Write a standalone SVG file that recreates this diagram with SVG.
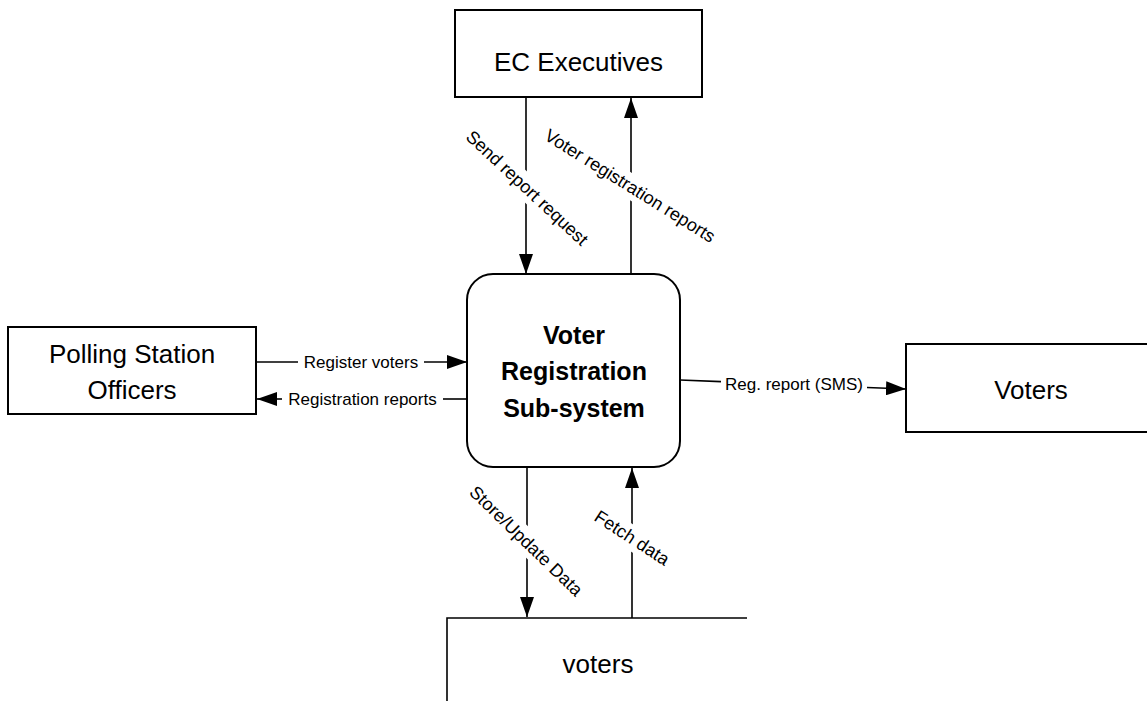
<svg xmlns="http://www.w3.org/2000/svg" width="1147" height="701" viewBox="0 0 1147 701">
<style>
.box{fill:#fff;stroke:#000;stroke-width:2}
.ln{fill:none;stroke:#000;stroke-width:1.6}
.big{font-family:"Liberation Sans",Arial,sans-serif;font-size:26px;fill:#000;text-anchor:middle}
.bold{font-family:"Liberation Sans",Arial,sans-serif;font-size:25px;font-weight:bold;fill:#000;text-anchor:middle}
.lbl{font-family:"Liberation Sans",Arial,sans-serif;font-size:17px;fill:#000;text-anchor:middle}
.rl{font-size:18px}
.bg{fill:#fff;stroke:none}
</style>
<defs>
<marker id="arr" markerUnits="userSpaceOnUse" markerWidth="20" markerHeight="14" refX="20" refY="7" orient="auto">
<path d="M0,0 L20,7 L0,14 z" fill="#000"/>
</marker>
</defs>
<rect width="1147" height="701" fill="#fff"/>
<g id="ec-executives">
<rect class="box" x="455" y="10" width="247" height="87"/>
<text class="big" x="578.5" y="71" font-size="23.5">EC Executives</text>
</g>
<g id="polling-station-officers">
<rect class="box" x="8" y="327" width="248" height="87"/>
<text class="big" x="132" y="363" font-size="27">Polling Station</text>
<text class="big" x="132" y="399" font-size="27">Officers</text>
</g>
<g id="voters-entity">
<rect class="box" x="906" y="344" width="260" height="88"/>
<text class="big" x="1031" y="399">Voters</text>
</g>
<g id="voter-registration-subsystem">
<rect class="box" x="467" y="274" width="213" height="193" rx="26" ry="26"/>
<text class="bold" x="574" y="344">Voter</text>
<text class="bold" x="574" y="380">Registration</text>
<text class="bold" x="574" y="417">Sub-system</text>
</g>
<g id="voters-datastore">
<path class="ln" d="M447,701 L447,618 L747,618" stroke-width="2"/>
<text class="big" x="598" y="673" font-size="27">voters</text>
</g>
<g id="connectors">
<line class="ln" x1="526" y1="97" x2="526" y2="274" marker-end="url(#arr)"/>
<line class="ln" x1="631" y1="274" x2="631" y2="98" marker-end="url(#arr)"/>
<line class="ln" x1="527" y1="467" x2="527" y2="617" marker-end="url(#arr)"/>
<line class="ln" x1="632" y1="618" x2="632" y2="468" marker-end="url(#arr)"/>
<line class="ln" x1="256" y1="362" x2="298" y2="362"/>
<line class="ln" x1="424" y1="362" x2="467" y2="362" marker-end="url(#arr)"/>
<line class="ln" x1="467" y1="399" x2="443" y2="399"/>
<line class="ln" x1="282" y1="399" x2="257" y2="399" marker-end="url(#arr)"/>
<line class="ln" x1="680" y1="380" x2="721" y2="381.6"/>
<line class="ln" x1="867" y1="387.5" x2="906" y2="389" marker-end="url(#arr)"/>
<text class="lbl" x="361" y="368">Register voters</text>
<text class="lbl" x="362.5" y="405">Registration reports</text>
<text class="lbl" x="794" y="390">Reg. report (SMS)</text>
<g transform="translate(527,188) rotate(43)">
<rect class="bg" x="-83" y="-12" width="166" height="24"/>
<text class="lbl rl" x="0" y="6">Send report  request</text>
</g>
<g transform="translate(630,186) rotate(32)">
<rect class="bg" x="-101" y="-12" width="202" height="24"/>
<text class="lbl rl" x="0" y="6">Voter registration reports</text>
</g>
<g transform="translate(526,541) rotate(44)">
<rect class="bg" x="-78" y="-12" width="156" height="24"/>
<text class="lbl rl" x="0" y="6">Store/Update  Data</text>
</g>
<g transform="translate(632,538) rotate(33)">
<rect class="bg" x="-45" y="-12" width="90" height="24"/>
<text class="lbl rl" x="0" y="6">Fetch data</text>
</g>
</g>
</svg>
